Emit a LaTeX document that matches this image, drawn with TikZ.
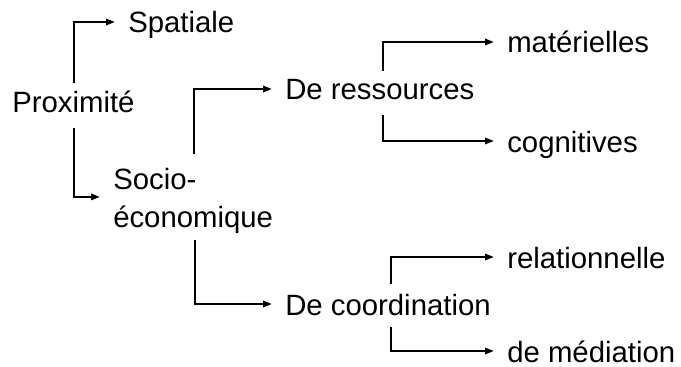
\documentclass[tikz,border=0pt]{standalone}
\usepackage{fontspec}
\setmainfont{Liberation Sans}
\usepackage{xcolor}
\usepackage{tikz}
\usetikzlibrary{arrows.meta,calc}

\begin{document}
\begin{tikzpicture}[
    x=0.75pt, y=0.75pt,
    term/.style={
        anchor=base west,
        inner sep=0pt,
        text height=19.5pt,
        text depth=3pt,
        font=\fontsize{22}{28.5}\selectfont
    },
    multi term/.style={
        anchor=north west,
        inner sep=0pt,
        align=left,
        font=\fontsize{22}{28.5}\selectfont
    },
    arrow/.style={-{Triangle[length=6.5pt,width=5pt]}, line width=0.9pt, shorten >=10pt}
]

\useasboundingbox (0,0) rectangle (681,-367);

% === ROOT ===
\node[term] (prox) at (12,-113) {Proximité};

% === FIRST LEVEL ===
\node[term] (spat) at (128,-33) {Spatiale};
\node[multi term] (socio) at (113,-168) {Socio-\\économique};

% === SECOND LEVEL ===
\node[term] (res) at (285,-100) {De ressources};
\node[term] (coord) at (285,-315) {De coordination};

% === LEAVES ===
\node[term] (mat) at (507,-53) {matérielles};
\node[term] (cog) at (507,-152) {cognitives};
\node[term] (rel) at (507,-268) {relationnelle};
\node[term] (med) at (507,-362) {de médiation};

% === ARROWS ===
% Proximité to its two kinds
\draw[arrow] ($(prox.north west)+(62,4)$) |- (spat.west);
\draw[arrow] ($(prox.south west)+(62,-11)$) |- ([yshift=3pt]socio.west);

% Socio-économique to its two kinds
\draw[arrow] ($(socio.north west)+(81,14)$) |- (res.west);
\draw[arrow] ($(socio.south west)+(82,-6)$) |- (coord.west);

% De ressources
\draw[arrow] ($(res.north west)+(98,3)$) |- (mat.west);
\draw[arrow] ($(res.south west)+(98,-11)$) |- (cog.west);

% De coordination
\draw[arrow] ($(coord.north west)+(106,5)$) |- (rel.west);
\draw[arrow] ($(coord.south west)+(106,-8)$) |- (med.west);

\end{tikzpicture}
\end{document}
